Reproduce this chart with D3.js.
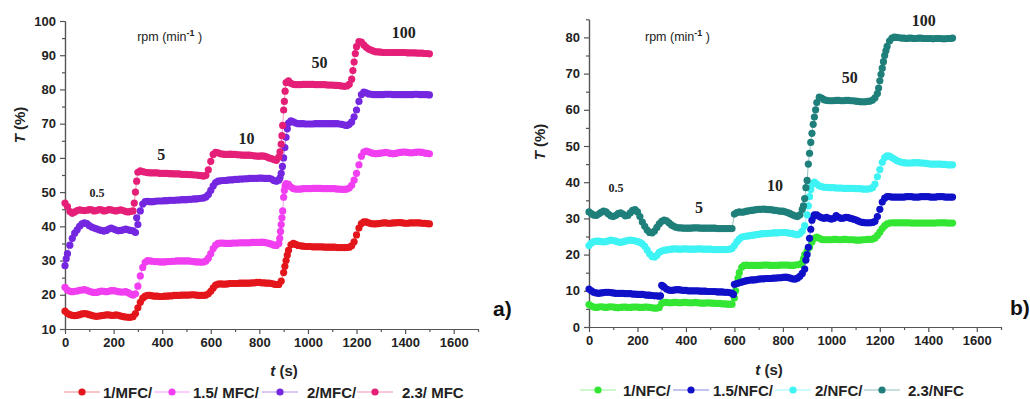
<!DOCTYPE html>
<html lang="en">
<head>
<meta charset="UTF-8">
<title>T vs t</title>
<script src="https://cdn.jsdelivr.net/npm/d3@7/dist/d3.min.js"></script>
<style>
    body { margin: 0; background: #fff; }
    text { font-family: Arial, "Liberation Sans", sans-serif; }
    .axis path, .axis line { stroke: #555; stroke-width: 1.2; }
    .axis text { font-size: 13px; font-weight: bold; fill: #222; }
    .note { font-family: "Liberation Serif", "Times New Roman", serif; font-weight: bold; fill: #222; }
    .legend text { font-size: 15px; font-weight: bold; fill: #222; }
</style>
</head>
<body>
<svg width="1030" height="399"></svg>
<script>
    // sampling times (s), one value every 10 s
    var times = d3.range(0, 1501, 10);

    var xTicks = [0, 200, 400, 600, 800, 1000, 1200, 1400, 1600],
        xMinor = [100, 300, 500, 700, 900, 1100, 1300, 1500, 1700],
        leftYTicks = [10, 20, 30, 40, 50, 60, 70, 80, 90, 100],
        leftYMinor = [15, 25, 35, 45, 55, 65, 75, 85, 95],
        rightYTicks = [0, 10, 20, 30, 40, 50, 60, 70, 80],
        rightYMinor = [5, 15, 25, 35, 45, 55, 65, 75, 85];

    // ---- panel a) MFC ----
    var mfc1 = [
        15.2, 14.6, 14.2, 14.0, 13.9, 14.0, 14.2, 14.4, 14.5, 14.4,
        14.2, 14.0, 13.8, 13.7, 13.8, 13.9, 14.0, 14.1, 14.1, 14.0,
        14.0, 14.1, 14.0, 13.8, 13.6, 13.5, 13.4, 13.4, 13.6, 14.5,
        16.2, 17.8, 19.0, 19.6, 19.8, 19.8, 19.7, 19.6, 19.6, 19.5,
        19.5, 19.6, 19.6, 19.7, 19.7, 19.8, 19.8, 19.8, 19.9, 19.9,
        19.9, 19.9, 20.0, 20.0, 19.9, 19.8, 19.8, 19.8, 19.9, 20.3,
        21.0, 22.0, 22.8, 23.1, 23.2, 23.1, 23.1, 23.2, 23.3, 23.3,
        23.3, 23.3, 23.4, 23.4, 23.4, 23.4, 23.4, 23.5, 23.5, 23.6,
        23.6, 23.5, 23.5, 23.4, 23.4, 23.3, 23.1, 23.0, 23.0, 24.0,
        26.5, 30.0, 33.0, 34.6, 35.0, 34.7, 34.4, 34.3, 34.2, 34.1,
        34.1, 34.1, 34.0, 34.0, 34.0, 34.0, 34.0, 33.9, 33.9, 33.9,
        33.9, 33.9, 33.8, 33.8, 33.8, 33.8, 33.8, 33.9, 34.3, 35.5,
        37.5, 39.5, 40.8, 41.3, 41.3, 41.0, 40.8, 40.7, 40.7, 40.8,
        40.9, 41.0, 41.0, 40.9, 40.9, 41.0, 41.0, 41.1, 41.1, 41.0,
        40.9, 40.9, 41.0, 41.0, 41.0, 41.0, 41.0, 40.9, 40.9, 40.8,
        40.7];
    var mfc1Extra = [[905, 28.3], [915, 31.6]];

    var mfc15 = [
        22.2, 21.4, 21.0, 20.9, 21.0, 21.1, 21.3, 21.4, 21.5, 21.3,
        21.0, 20.8, 20.7, 20.7, 20.9, 21.1, 21.0, 20.9, 21.0, 21.2,
        21.2, 21.1, 20.9, 20.8, 20.8, 20.9, 20.6, 20.2, 19.9, 20.3,
        22.5, 25.5, 28.0, 29.5, 30.0, 29.9, 29.8, 29.7, 29.7, 29.6,
        29.6, 29.6, 29.7, 29.7, 29.8, 29.8, 29.9, 29.9, 29.9, 29.9,
        29.9, 29.9, 29.8, 29.7, 29.6, 29.6, 29.5, 29.6, 29.9, 30.7,
        32.0, 33.5, 34.5, 35.0, 35.1, 35.1, 35.0, 35.0, 35.0, 35.1,
        35.1, 35.1, 35.2, 35.2, 35.2, 35.2, 35.2, 35.3, 35.3, 35.3,
        35.3, 35.4, 35.3, 35.2, 35.0, 34.8, 34.5, 34.4, 35.0, 40.5,
        48.5, 52.5, 52.3, 51.5, 51.0, 50.9, 50.9, 50.9, 51.0, 51.0,
        51.0, 51.0, 51.1, 51.1, 51.1, 51.1, 51.0, 51.0, 51.0, 51.0,
        51.0, 51.0, 50.9, 50.9, 50.8, 50.8, 50.9, 51.2, 52.0, 53.5,
        55.5, 58.0, 60.5, 61.7, 62.0, 61.8, 61.5, 61.3, 61.2, 61.3,
        61.4, 61.5, 61.6, 61.5, 61.3, 61.2, 61.3, 61.5, 61.6, 61.7,
        61.7, 61.6, 61.5, 61.5, 61.6, 61.7, 61.7, 61.6, 61.4, 61.3,
        61.2];
    var mfc15Extra = [[884, 36.5], [887, 38.5], [893, 42.5], [896, 44.5], [903, 50.5], [906, 51.8]];

    var mfc2 = [
        28.5, 32.0, 34.5, 36.5, 38.0, 39.0, 40.0, 40.7, 41.0, 40.8,
        40.2, 39.8, 39.5, 39.3, 39.0, 38.8, 38.6, 38.8, 39.2, 39.5,
        39.2, 38.9, 38.7, 38.8, 39.0, 39.2, 39.0, 38.8, 38.7, 38.2,
        40.5, 44.5, 46.5, 47.2, 47.3, 47.2, 47.2, 47.3, 47.4, 47.4,
        47.4, 47.5, 47.5, 47.6, 47.6, 47.6, 47.7, 47.7, 47.8, 47.8,
        47.8, 47.9, 47.9, 48.0, 48.0, 48.1, 48.2, 48.3, 48.6, 49.3,
        50.5, 51.8, 52.8, 53.2, 53.3, 53.4, 53.4, 53.5, 53.6, 53.6,
        53.7, 53.7, 53.8, 53.8, 53.9, 53.9, 54.0, 54.0, 54.0, 54.0,
        54.1, 54.1, 54.0, 54.0, 54.0, 53.8, 53.4, 53.2, 53.5, 55.5,
        60.0, 66.0, 70.2, 70.8, 70.5, 70.2, 70.0, 70.0, 70.0, 69.9,
        69.9, 69.9, 69.9, 70.0, 70.0, 70.0, 70.0, 70.0, 70.0, 70.0,
        70.0, 70.0, 70.0, 69.9, 69.8, 69.6, 69.5, 69.8, 70.5, 72.0,
        74.0, 76.5, 78.5, 79.2, 79.0, 78.7, 78.6, 78.5, 78.5, 78.5,
        78.5, 78.5, 78.6, 78.6, 78.6, 78.5, 78.5, 78.5, 78.5, 78.5,
        78.5, 78.5, 78.5, 78.5, 78.6, 78.6, 78.5, 78.5, 78.5, 78.5,
        78.4];
    var mfc2Extra = [[5, 30.5], [295, 42.5], [885, 54.2], [895, 57.5], [905, 63.0], [915, 68.5]];

    var mfc23 = [
        46.8, 45.8, 44.3, 43.8, 44.2, 44.6, 44.8, 44.7, 44.6, 44.7,
        44.9, 44.8, 44.5, 44.6, 44.9, 44.8, 44.5, 44.6, 44.9, 44.8,
        44.6, 44.5, 44.7, 44.8, 44.6, 44.3, 44.2, 44.4, 44.5, 50.0,
        55.8, 56.2, 56.0, 55.8, 55.7, 55.6, 55.6, 55.6, 55.6, 55.5,
        55.5, 55.5, 55.5, 55.4, 55.4, 55.3, 55.3, 55.3, 55.2, 55.2,
        55.2, 55.1, 55.1, 55.0, 55.0, 54.9, 54.8, 54.7, 54.9, 56.5,
        59.0, 61.0, 61.6, 61.5, 61.2, 61.1, 61.0, 61.0, 61.1, 61.0,
        61.0, 60.9, 60.9, 60.8, 60.8, 60.8, 60.8, 60.7, 60.6, 60.5,
        60.5, 60.6, 60.5, 60.3, 60.0, 59.8, 59.5, 59.3, 60.2, 64.0,
        74.0, 82.0, 82.5, 81.8, 81.5, 81.4, 81.4, 81.4, 81.5, 81.5,
        81.5, 81.5, 81.5, 81.4, 81.4, 81.4, 81.4, 81.4, 81.3, 81.3,
        81.3, 81.2, 81.2, 81.1, 81.0, 80.9, 81.0, 81.5, 83.0, 88.0,
        92.5, 94.0, 93.8, 93.0, 92.3, 91.8, 91.5, 91.2, 91.0, 91.0,
        90.9, 90.8, 90.8, 90.8, 90.8, 90.8, 90.8, 90.8, 90.8, 90.8,
        90.8, 90.7, 90.7, 90.7, 90.7, 90.6, 90.6, 90.6, 90.5, 90.5,
        90.4];
    var mfc23Extra = [[285, 46.8], [295, 53.2], [885, 61.8], [893, 66.5], [896, 69.5], [903, 76.5],
        [906, 79.5], [1185, 85.5], [1195, 90.5]];

    // ---- panel b) NFC ----
    var nfc1 = [
        6.2, 5.8, 5.5, 5.4, 5.5, 5.6, 5.5, 5.4, 5.5, 5.6,
        5.5, 5.4, 5.3, 5.4, 5.5, 5.5, 5.4, 5.4, 5.5, 5.5,
        5.5, 5.4, 5.4, 5.5, 5.5, 5.4, 5.3, 5.2, 5.2, 5.4,
        6.5, 6.8, 6.8, 6.7, 6.7, 6.8, 6.8, 6.7, 6.7, 6.8,
        6.8, 6.7, 6.7, 6.7, 6.8, 6.7, 6.6, 6.6, 6.6, 6.7,
        6.6, 6.6, 6.5, 6.5, 6.5, 6.4, 6.4, 6.3, 6.3, 6.3,
        8.0, 12.0, 15.0, 16.5, 17.0, 17.1, 17.0, 17.0, 17.0, 17.0,
        17.0, 17.0, 17.1, 17.1, 17.1, 17.0, 17.0, 17.0, 17.0, 17.1,
        17.1, 17.1, 17.1, 17.0, 17.0, 17.1, 17.2, 17.3, 17.8, 20.0,
        21.0, 22.0, 23.5, 24.5, 24.8, 24.5, 24.2, 24.1, 24.1, 24.1,
        24.1, 24.2, 24.2, 24.1, 24.1, 24.2, 24.2, 24.1, 24.1, 24.1,
        24.0, 24.0, 24.0, 24.1, 24.1, 24.2, 24.2, 24.3, 24.6, 25.3,
        26.2, 27.2, 28.0, 28.5, 28.7, 28.8, 28.8, 28.8, 28.8, 28.8,
        28.8, 28.8, 28.8, 28.7, 28.7, 28.7, 28.7, 28.7, 28.7, 28.7,
        28.7, 28.7, 28.7, 28.7, 28.8, 28.8, 28.8, 28.8, 28.7, 28.7,
        28.7];
    var nfc1Extra = [[605, 10.0], [615, 13.5], [885, 18.8]];

    var nfc15 = [
        10.5, 10.0, 9.6, 9.4, 9.3, 9.4, 9.5, 9.6, 9.6, 9.5,
        9.4, 9.3, 9.3, 9.3, 9.3, 9.2, 9.2, 9.2, 9.1, 9.1,
        9.0, 9.0, 9.0, 8.9, 8.8, 8.8, 8.7, 8.6, 8.6, 8.5,
        11.5, 11.0, 10.5, 10.2, 10.1, 10.2, 10.3, 10.3, 10.2, 10.1,
        10.1, 10.0, 10.0, 10.0, 10.0, 10.0, 9.9, 9.9, 9.9, 9.8,
        9.8, 9.8, 9.8, 9.7, 9.7, 9.7, 9.6, 9.6, 9.5, 9.3,
        11.8, 12.0, 12.2, 12.4, 12.6, 12.8, 12.9, 13.0, 13.0, 13.1,
        13.2, 13.3, 13.3, 13.4, 13.4, 13.4, 13.5, 13.5, 13.6, 13.6,
        13.7, 13.8, 13.7, 13.5, 13.3, 13.2, 13.5, 14.0, 14.8, 16.0,
        20.0, 24.5, 29.5, 31.0, 31.0, 30.5, 30.2, 30.0, 30.3, 30.0,
        29.8, 30.0, 30.8, 30.3, 30.0, 30.1, 30.3, 30.2, 30.0, 29.8,
        29.6, 29.3, 29.0, 28.9, 28.8, 28.8, 28.8, 28.9, 29.2, 30.5,
        32.5, 34.5, 35.6, 36.0, 36.0, 35.9, 35.9, 35.9, 35.9, 35.9,
        35.9, 36.0, 36.0, 36.0, 35.9, 35.9, 35.9, 36.0, 36.0, 36.0,
        36.0, 35.9, 35.9, 35.9, 36.0, 36.0, 36.0, 35.9, 35.9, 35.9,
        35.9];
    var nfc15Extra = [[295, 8.6], [305, 11.3], [596, 9.0], [895, 18.5], [905, 22.0], [915, 27.0], [925, 30.5]];

    var nfc2 = [
        22.5, 23.2, 23.6, 23.7, 23.7, 23.6, 23.5, 23.6, 23.8, 24.0,
        23.9, 23.7, 23.5, 23.4, 23.5, 23.7, 23.9, 24.0, 23.9, 23.8,
        23.6, 23.4, 23.0, 22.3, 21.3, 20.2, 19.5, 19.3, 19.8, 20.6,
        21.0, 21.2, 21.3, 21.4, 21.5, 21.6, 21.6, 21.5, 21.5, 21.6,
        21.6, 21.5, 21.5, 21.5, 21.5, 21.6, 21.6, 21.5, 21.5, 21.5,
        21.5, 21.4, 21.4, 21.4, 21.4, 21.4, 21.4, 21.4, 21.5, 21.7,
        22.5, 23.5, 24.3, 24.8, 25.0, 25.1, 25.2, 25.3, 25.4, 25.5,
        25.6, 25.7, 25.8, 25.8, 25.9, 25.9, 26.0, 26.0, 26.0, 26.1,
        26.1, 26.1, 26.0, 25.9, 25.8, 25.6, 25.5, 25.8, 26.5, 28.0,
        31.0, 36.0, 39.5, 40.0, 39.5, 39.0, 38.8, 38.6, 38.6, 38.5,
        38.5, 38.5, 38.4, 38.4, 38.4, 38.3, 38.3, 38.3, 38.3, 38.3,
        38.2, 38.2, 38.2, 38.1, 38.1, 38.1, 38.2, 38.5, 39.5, 41.5,
        43.5, 45.5, 46.8, 47.3, 47.2, 46.8, 46.4, 46.0, 45.7, 45.5,
        45.4, 45.3, 45.3, 45.3, 45.4, 45.4, 45.4, 45.3, 45.3, 45.2,
        45.1, 45.0, 45.0, 45.0, 45.0, 45.0, 44.9, 44.9, 44.8, 44.8,
        44.8];
    var nfc2Extra = [[905, 33.5], [915, 38.0]];

    var nfc23 = [
        31.8, 31.3, 30.9, 30.8, 31.2, 31.7, 32.0, 31.8, 31.2, 30.7,
        30.5, 30.8, 31.3, 31.5, 31.2, 30.7, 30.8, 31.5, 32.2, 32.4,
        31.8, 30.5, 29.0, 27.8, 26.8, 26.1, 26.0, 26.5, 27.5, 28.5,
        29.2, 29.5, 29.3, 28.8, 28.2, 27.8, 27.5, 27.4, 27.4, 27.3,
        27.3, 27.3, 27.3, 27.4, 27.4, 27.4, 27.3, 27.3, 27.3, 27.3,
        27.3, 27.3, 27.3, 27.2, 27.2, 27.2, 27.2, 27.2, 27.2, 27.2,
        31.2, 31.6, 31.8, 31.7, 31.8, 32.0, 32.1, 32.2, 32.3, 32.4,
        32.5, 32.5, 32.6, 32.5, 32.4, 32.4, 32.3, 32.2, 32.1, 32.0,
        32.0, 31.8, 31.6, 31.3, 31.0, 30.7, 30.5, 31.0, 32.5, 35.5,
        40.5, 48.0, 53.5, 58.0, 62.0, 63.5, 63.2, 62.8, 62.6, 62.5,
        62.5, 62.5, 62.6, 62.6, 62.5, 62.5, 62.6, 62.6, 62.5, 62.5,
        62.4, 62.3, 62.2, 62.2, 62.2, 62.3, 62.4, 62.7, 63.3, 64.5,
        68.0, 71.5, 75.0, 77.5, 79.0, 79.8, 80.1, 80.0, 79.9, 79.8,
        79.8, 79.7, 79.8, 79.8, 79.7, 79.7, 79.8, 79.8, 79.7, 79.7,
        79.7, 79.7, 79.6, 79.7, 79.7, 79.7, 79.6, 79.6, 79.7, 79.7,
        79.8];
    var nfc23Extra = [[885, 33.5], [895, 38.5], [905, 45.0], [915, 51.0], [925, 56.0], [935, 60.0],
        [1195, 66.0], [1205, 69.8], [1215, 73.3], [1225, 76.3]];

    var mfcNames = ['1/MFC/', '1.5/ MFC/', '2/MFC/', '2.3/ MFC'],
        nfcNames = ['1/NFC/', '1.5/NFC/', '2/NFC/', '2.3/NFC'];

    var mfcNotes = [['0.5', 132, 49.7, 12], ['5', 396, 61.1, 16], ['10', 747, 65.8, 16], ['50', 1048, 88.0, 16], ['100', 1394, 96.5, 16]],
        nfcNotes = [['0.5', 111, 38.4, 12], ['5', 454, 32.9, 16], ['10', 767, 39.0, 16], ['50', 1076, 69.0, 16], ['100', 1381, 84.8, 16]];

    var svg = d3.select('svg');

    function points(vals, extra) {
        var pts = vals.map(function(v, i) { return [times[i], v]; });
        return pts.concat(extra).sort(function(a, b) { return a[0] - b[0]; });
    }

    function drawPanel(p) {
        var x = d3.scaleLinear().domain([0, 1700]).range(p.xRange),
            y = d3.scaleLinear().domain(p.yDomain).range(p.yRange),
            g = svg.append('g'),
            fmt = d3.format('d');

        g.append('g').attr('class', 'axis')
            .attr('transform', 'translate(0,' + p.yRange[0] + ')')
            .call(d3.axisBottom(x).tickValues(xTicks).tickFormat(fmt).tickSize(5).tickSizeOuter(0).tickPadding(4));
        g.append('g').attr('class', 'axis')
            .attr('transform', 'translate(0,' + p.yRange[0] + ')')
            .call(d3.axisBottom(x).tickValues(xMinor).tickSize(3).tickSizeOuter(0).tickFormat(''));
        g.append('g').attr('class', 'axis')
            .attr('transform', 'translate(' + p.xRange[0] + ',0)')
            .call(d3.axisLeft(y).tickValues(p.yTicks).tickFormat(fmt).tickSize(5).tickSizeOuter(0).tickPadding(4));
        g.append('g').attr('class', 'axis')
            .attr('transform', 'translate(' + p.xRange[0] + ',0)')
            .call(d3.axisLeft(y).tickValues(p.yMinor).tickSize(3).tickSizeOuter(0).tickFormat(''));

        var line = d3.line().x(function(d) { return x(d[0]); }).y(function(d) { return y(d[1]); });

        p.series.forEach(function(s, i) {
            var pts = points(s[0], s[1]);
            g.append('path').datum(pts)
                .attr('d', line)
                .attr('fill', 'none')
                .attr('stroke', p.colors[i])
                .attr('stroke-opacity', 0.6)
                .attr('stroke-width', 0.8);
            g.append('g').selectAll('circle').data(pts).enter().append('circle')
                .attr('cx', function(d) { return x(d[0]); })
                .attr('cy', function(d) { return y(d[1]); })
                .attr('r', 3.6)
                .attr('fill', p.colors[i]);
        });

        // speed annotations
        g.selectAll('text.note').data(p.notes).enter().append('text')
            .attr('class', 'note')
            .attr('x', function(d) { return x(d[1]); })
            .attr('y', function(d) { return y(d[2]); })
            .attr('text-anchor', 'middle')
            .attr('dominant-baseline', 'central')
            .style('font-size', function(d) { return d[3] + 'px'; })
            .text(function(d) { return d[0]; });

        var rpm = g.append('text')
            .attr('x', x(p.rpm[0])).attr('y', y(p.rpm[1]))
            .attr('dominant-baseline', 'central')
            .style('font-size', '12.5px').style('fill', '#222');
        rpm.append('tspan').text('rpm (min');
        rpm.append('tspan').attr('dy', -4).style('font-size', '9px').style('font-weight', 'bold').text('-1');
        rpm.append('tspan').attr('dy', 4).text(' )');

        // axis titles
        var yt = g.append('text')
            .attr('transform', 'translate(' + p.yTitle[0] + ',' + p.yTitle[1] + ') rotate(-90)')
            .attr('text-anchor', 'middle')
            .attr('dominant-baseline', 'central')
            .style('font-size', '15px').style('font-weight', 'bold').style('fill', '#222');
        yt.append('tspan').style('font-style', 'italic').text('T');
        yt.append('tspan').text(' (%)');

        var xt = g.append('text')
            .attr('x', p.xTitle[0]).attr('y', p.xTitle[1])
            .attr('text-anchor', 'middle')
            .attr('dominant-baseline', 'central')
            .style('font-size', '15px').style('font-weight', 'bold').style('fill', '#222');
        xt.append('tspan').style('font-style', 'italic').text('t');
        xt.append('tspan').text(' (s)');

        g.append('text')
            .attr('x', p.tag[0]).attr('y', p.tag[1])
            .attr('dominant-baseline', 'central')
            .style('font-size', '21px').style('font-weight', 'bold').style('fill', '#111')
            .text(p.tag[2]);

        // legend
        var lg = g.append('g').attr('class', 'legend');
        p.names.forEach(function(name, i) {
            var cx = p.legendDots[i], ly = p.legendY;
            lg.append('line')
                .attr('x1', cx - 18).attr('x2', cx + 18)
                .attr('y1', ly).attr('y2', ly)
                .attr('stroke', p.colors[i]).attr('stroke-opacity', 0.5).attr('stroke-width', 1);
            lg.append('circle').attr('cx', cx).attr('cy', ly).attr('r', 3.6).attr('fill', p.colors[i]);
            lg.append('text')
                .attr('x', p.legendText[i]).attr('y', ly)
                .attr('dominant-baseline', 'central')
                .text(name);
        });
    }

    drawPanel({
        xRange: [65, 478], yRange: [329, 21], yDomain: [10, 100],
        yTicks: leftYTicks, yMinor: leftYMinor,
        series: [[mfc1, mfc1Extra], [mfc15, mfc15Extra], [mfc2, mfc2Extra], [mfc23, mfc23Extra]],
        colors: ['#e3161c', '#f03ef0', '#7426e0', '#e51f78'],
        names: mfcNames, notes: mfcNotes, rpm: [297, 95.3],
        yTitle: [19, 125], xTitle: [284, 370], tag: [493, 308, 'a)'],
        legendDots: [82, 172, 280, 375], legendText: [103, 193, 307, 402], legendY: 392
    });

    drawPanel({
        xRange: [589, 1001], yRange: [327, 19.3], yDomain: [0, 85],
        yTicks: rightYTicks, yMinor: rightYMinor,
        series: [[nfc1, nfc1Extra], [nfc15, nfc15Extra], [nfc2, nfc2Extra], [nfc23, nfc23Extra]],
        colors: ['#33e633', '#1010c8', '#3ef3f3', '#1f7f7a'],
        names: nfcNames, notes: nfcNotes, rpm: [231, 80.1],
        yTitle: [539, 142], xTitle: [769, 369], tag: [1010, 307, 'b)'],
        legendDots: [598, 691, 793, 882], legendText: [623, 713, 815, 908], legendY: 390
    });
</script>
</body>
</html>
